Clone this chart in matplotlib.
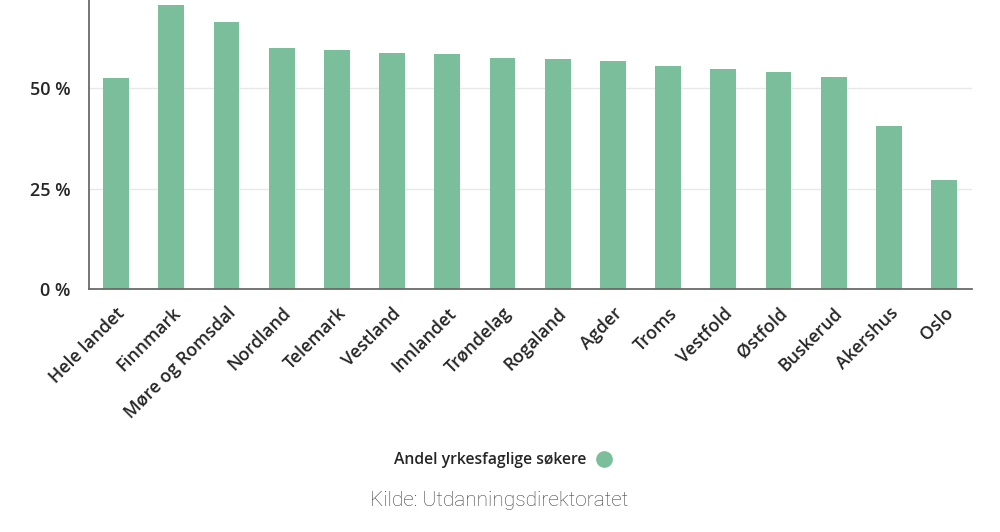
import matplotlib.pyplot as plt
import matplotlib.ticker as ptk

fylker = ["Hele landet", "Finnmark", "Møre og Romsdal", "Nordland", "Telemark",
          "Vestland", "Innlandet", "Trøndelag", "Rogaland", "Agder", "Troms",
          "Vestfold", "Østfold", "Buskerud", "Akershus", "Oslo"]
andel = [52.5, 70.8, 66.6, 60.1, 59.5, 58.9, 58.6, 57.6, 57.2, 56.9, 55.6,
         54.7, 54.1, 52.8, 40.5, 27.2]
y_ticks = [0, 25, 50]

bar_color = "#7bbe9b"
text_color = "#262626"

plt.rcParams['font.family'] = ['Open Sans', 'DejaVu Sans']

fig = plt.figure(figsize=(10, 5.32), dpi=100, facecolor="white")
ax = fig.add_axes([0.0885, 1 - 289 / 532, 0.8832, 289 / 532])

x = range(len(fylker))
ax.bar(x, andel, width=0.465, color=bar_color, zorder=2)

ax.set_xlim(-0.5, len(fylker) - 0.5)
ax.set_ylim(0, 72)
ax.set_yticks(y_ticks)
ax.yaxis.set_major_formatter(ptk.FuncFormatter(lambda v, p: "%d %%" % v))
ax.grid(axis="y", color="#e8e8e8", linewidth=1, zorder=0)

ax.set_xticks(list(x))
ax.set_xticklabels(fylker, rotation=45, ha="right", va="top", rotation_mode="anchor",
                   fontsize=12.8, fontweight="semibold", color=text_color)
for lab in ax.get_yticklabels():
    lab.set_fontsize(13)
    lab.set_fontweight("semibold")
    lab.set_color(text_color)
ax.tick_params(axis="both", length=0)
ax.tick_params(axis="x", pad=11)
ax.tick_params(axis="y", pad=13)

for s in ["top", "right"]:
    ax.spines[s].set_visible(False)
for s in ["left", "bottom"]:
    ax.spines[s].set_color("#6a6a6a")
    ax.spines[s].set_linewidth(1.3)

# legend
fig.text(0.586, 1 - 460 / 532, "Andel yrkesfaglige søkere", ha="right", va="center",
         fontsize=11.3, fontweight="semibold", color=text_color)
fig.lines.append(plt.Line2D([0.6035], [1 - 459 / 532], transform=fig.transFigure,
                            marker="o", markersize=11, color=bar_color, linestyle=""))

fig.text(0.499, 1 - 501 / 532, "Kilde: Utdanningsdirektoratet", ha="center", va="center",
         fontsize=15, family=["Roboto", "DejaVu Sans"], fontweight="light", color="#3f3f3f")

fig.savefig("out.png", dpi=100, facecolor="white")
